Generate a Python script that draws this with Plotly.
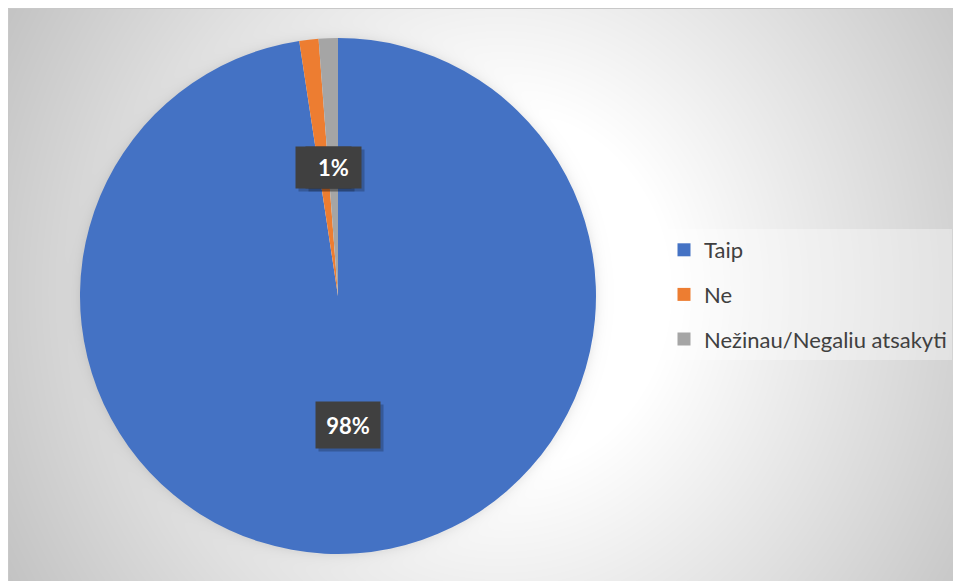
import numpy as np
import plotly.graph_objects as go

# ---- data ----
labels = ["Taip", "Ne", "Nežinau/Negaliu atsakyti"]
values = [97.6, 1.2, 1.2]
pct_text = ["98%", "1%", "1%"]
colors = ["#4472C4", "#ED7D31", "#A5A5A5"]

W, H = 961, 581
OX, OY = 8, 7  # page offset of the figure inside the window

# pie placement (paper domain)
dom_x = [(80 - OX) / W, (596 - OX) / W]
dom_y = [1 - (553 - OY) / H, 1 - (37 - OY) / H]
cx = (dom_x[0] + dom_x[1]) / 2 * W
cy = (1 - (dom_y[0] + dom_y[1]) / 2) * H
R = min((dom_x[1] - dom_x[0]) * W, (dom_y[1] - dom_y[0]) * H) / 2

# ---- background (radial gradient + soft pie shadow) ----
step = 3
xs = np.arange(0, W + step, step, dtype=float)
ys = np.arange(0, H + step, step, dtype=float)
X, Y = np.meshgrid(xs, ys)
r = np.sqrt(((X - (500 - OX)) / 560) ** 2 + ((Y - (290 - OY)) / 600) ** 2)
t = np.clip((r - 0.3) / 0.7, 0, 1)
G = 255 - 60 * t
d = np.sqrt((X - cx) ** 2 + (Y - cy) ** 2) - R
G = G - np.where(d > -2, 16 * np.exp(-np.clip(d, 0, None) / 5), 0)

fig = go.Figure()
fig.add_trace(go.Heatmap(
    x=xs, y=ys, z=G, zmin=0, zmax=255,
    colorscale=[[0, "rgb(0,0,0)"], [1, "rgb(255,255,255)"]],
    showscale=False, zsmooth="best", hoverinfo="skip", showlegend=False,
))

fig.add_trace(go.Pie(
    labels=labels, values=values, sort=False, direction="clockwise", rotation=0,
    marker=dict(colors=colors, line=dict(width=0)),
    textinfo="none", showlegend=False, domain=dict(x=dom_x, y=dom_y),
    hoverinfo="label+percent",
))

# legend entries
for lab, col in zip(labels, colors):
    fig.add_trace(go.Scatter(
        x=[None], y=[None], mode="markers", name=lab, legendgroup=lab,
        marker=dict(symbol="square", size=13, color=col), showlegend=True,
    ))

# data labels computed from slice angles
annotations = []
total = sum(values)
cum = 0.0
pos = []
for v, txt in zip(values, pct_text):
    mid = (cum + v / 2) / total
    cum += v
    th = 2 * np.pi * mid
    px = cx + 0.5 * R * np.sin(th)
    py = cy - 0.5 * R * np.cos(th)
    pos.append((px, py, txt))

for i, (px, py, txt) in enumerate(pos):
    big = len(txt) > 2
    w, h = (56, 38) if big else (47, 33)
    # a label box fully hidden under the next one keeps only its box
    covered = i + 1 < len(pos) and abs(pos[i + 1][0] - px) < w and abs(pos[i + 1][1] - py) < h
    annotations.append(dict(
        x=(px + 3) / W, y=1 - (py + 3) / H, xref="paper", yref="paper",
        xanchor="center", yanchor="middle",
        text=" ", showarrow=False, width=w, height=h, borderpad=4,
        bgcolor="rgba(0,0,0,0.22)",
    ))
    annotations.append(dict(
        x=px / W, y=1 - py / H, xref="paper", yref="paper",
        xanchor="center", yanchor="middle",
        text=" " if covered else "<b>%s</b>" % txt, showarrow=False,
        width=w, height=h, borderpad=4,
        bgcolor="#404040", font=dict(family="Lato", size=22, color="white"),
    ))

fig.update_layout(
    width=W, height=H, margin=dict(l=0, r=0, t=0, b=0),
    paper_bgcolor="white", plot_bgcolor="white",
    xaxis=dict(range=[0, W], visible=False, fixedrange=True),
    yaxis=dict(range=[H, 0], visible=False, fixedrange=True),
    legend=dict(
        x=(664 - OX) / W, y=1 - (228 - OY) / H, xanchor="left", yanchor="top",
        bgcolor="rgba(255,255,255,0.35)", font=dict(family="Lato", size=22, color="#404040"),
        tracegroupgap=13, itemclick=False, itemdoubleclick=False,
    ),
    annotations=annotations,
    shapes=[dict(type="rect", xref="paper", yref="paper",
                 x0=0.5 / W, x1=1 - 0.5 / W, y0=0.5 / H, y1=1 - 0.5 / H,
                 line=dict(color="#c8c8c8", width=1), layer="above")],
)

fig.write_html("out.html")
